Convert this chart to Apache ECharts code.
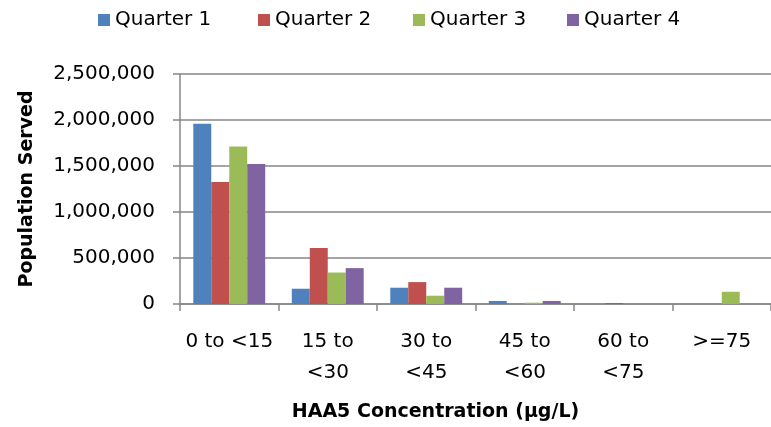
<!DOCTYPE html>
<html>
<head>
<meta charset="utf-8">
<script src="https://cdn.jsdelivr.net/npm/echarts@6/dist/echarts.min.js"></script>
<style>html,body{margin:0;padding:0;background:#fff;}#c{width:771px;height:427px;}</style>
</head>
<body>
<div id="c"></div>
<script>
const categories = ['0 to <15', '15 to\n<30', '30 to\n<45', '45 to\n<60', '60 to\n<75', '>=75'];
const seriesNames = ['Quarter 1', 'Quarter 2', 'Quarter 3', 'Quarter 4'];
const quarter1 = [1960000, 166000, 177000, 33000, 0, 0];
const quarter2 = [1327000, 609000, 238000, 0, 10000, 0];
const quarter3 = [1713000, 342000, 90000, 14000, 0, 133000];
const quarter4 = [1522000, 390000, 177000, 33000, 0, 0];
const yTickMax = 2500000;
const yTickStep = 500000;

const colors = ['#4F81BD', '#C0504D', '#9BBB59', '#8064A2'];
const FONT = 'DejaVu Sans';
const values = [quarter1, quarter2, quarter3, quarter4];
const legendLefts = [93, 253, 408, 562];

const chart = echarts.init(document.getElementById('c'));
chart.setOption({
  animation: false,
  color: colors,
  textStyle: { fontFamily: FONT },
  legend: seriesNames.map((n, i) => ({
    top: 5, left: legendLefts[i],
    itemWidth: 12, itemHeight: 12, itemGap: 0,
    icon: 'rect',
    textStyle: { fontFamily: FONT, fontSize: 20, color: '#000' },
    data: [n]
  })),
  grid: { left: 180, right: -5, top: 74, bottom: 122, containLabel: false },
  xAxis: {
    type: 'category',
    data: categories,
    name: 'HAA5 Concentration (µg/L)',
    nameLocation: 'middle',
    nameGap: 99,
    nameTextStyle: { fontFamily: FONT, fontSize: 19, fontWeight: 'bold', color: '#000', padding: [0, 80, 0, 0] },
    axisLine: { lineStyle: { color: '#868686', width: 1.5 } },
    axisTick: { show: true, length: 7, alignWithLabel: false, lineStyle: { color: '#868686', width: 1.5 } },
    axisLabel: { fontFamily: FONT, fontSize: 20, color: '#000', margin: 22, lineHeight: 31, interval: 0 }
  },
  yAxis: {
    type: 'value',
    min: 0, max: yTickMax, interval: yTickStep,
    name: 'Population Served',
    nameLocation: 'middle',
    nameRotate: 90,
    nameGap: 143,
    nameTextStyle: { fontFamily: FONT, fontSize: 19, fontWeight: 'bold', color: '#000' },
    axisLine: { show: true, lineStyle: { color: '#868686', width: 1.5 } },
    axisTick: { show: true, length: 7, lineStyle: { color: '#868686', width: 1.5 } },
    splitLine: { lineStyle: { color: '#868686', width: 1.5 } },
    axisLabel: {
      fontFamily: FONT, fontSize: 20, color: '#000', margin: 25,
      formatter: v => v.toLocaleString('en-US')
    }
  },
  series: seriesNames.map((n, i) => ({
    name: n,
    type: 'bar',
    data: values[i],
    barGap: '0%',
    barCategoryGap: '27%',
    itemStyle: { color: colors[i] }
  }))
});
</script>
</body>
</html>
